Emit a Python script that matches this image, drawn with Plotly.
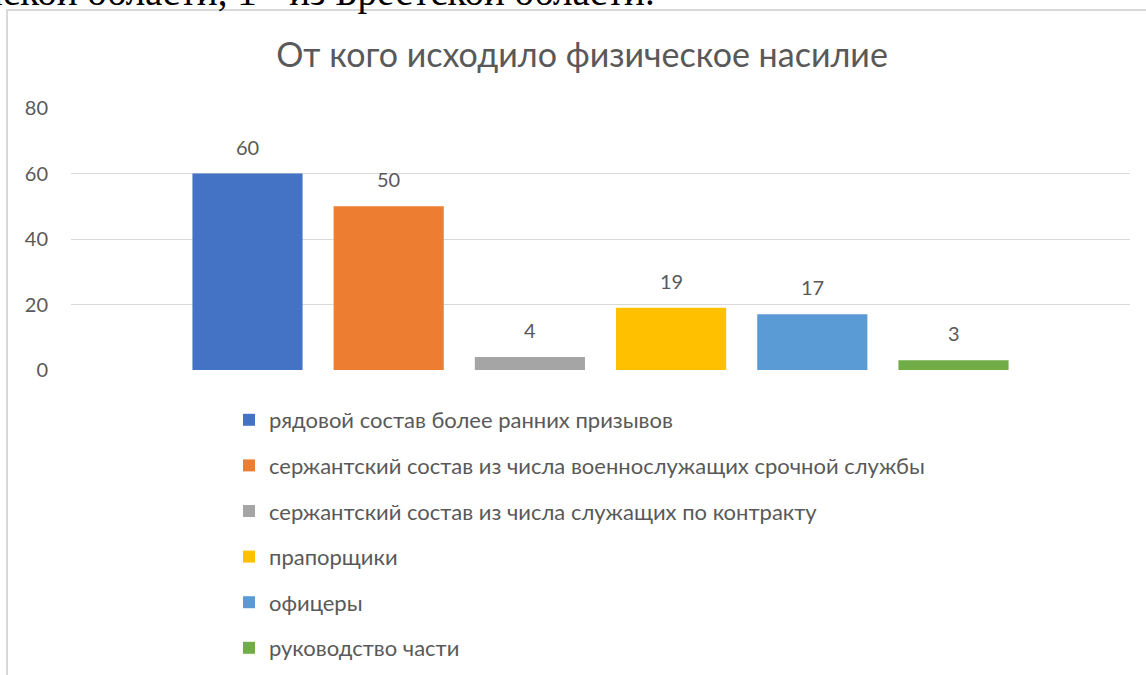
import plotly.graph_objects as go

categories = [""]
series_names = [
    "рядовой состав более ранних призывов",
    "сержантский состав из числа военнослужащих срочной службы",
    "сержантский состав из числа служащих по контракту",
    "прапорщики",
    "офицеры",
    "руководство части",
]
series_values = [60, 50, 4, 19, 17, 3]
series_colors = ["#4472C4", "#ED7D31", "#A5A5A5", "#FFC000", "#5B9BD5", "#70AD47"]
y_ticks = [0, 20, 40, 60, 80]

FONT = "Lato"
GRAY = "#595959"

W, H = 1146, 675
L, R = 71, 1130
T, B = 108, 370
pw, ph = R - L, B - T

def py(pix):
    return (B - pix) / ph

def px(pix):
    return (pix - L) / pw

fig = go.Figure()
for i, (name, val, col) in enumerate(zip(series_names, series_values, series_colors)):
    fig.add_trace(go.Bar(
        x=categories, y=[val], name=name, marker_color=col,
        marker_line_width=0, legendgroup=f"g{i}",
    ))

n = len(series_names)
slot = pw * (1 - 0.2) / n
annotations = []
for i, val in enumerate(series_values):
    annotations.append(dict(
        x=categories[0], y=val, xref="x", yref="y", text=str(val), showarrow=False,
        xshift=(i - (n - 1) / 2) * slot, yshift=27, yanchor="middle",
        font=dict(family=FONT, size=20, color=GRAY),
    ))

annotations.append(dict(
    x=px(657), y=py(16), xref="paper", yref="paper", xanchor="right", yanchor="bottom",
    text="нской области, 1 - из Брестской области.", showarrow=False,
    font=dict(family="Liberation Serif", size=39, color="#000000"),
))

fig.update_layout(
    width=W, height=H,
    margin=dict(l=L, r=W - R, t=T, b=H - B, pad=0, autoexpand=False),
    paper_bgcolor="white", plot_bgcolor="white",
    barmode="group", bargap=0.2, bargroupgap=0.22,
    title=dict(text="От кого исходило физическое насилие", x=582 / W, xanchor="center",
               y=1 - 55 / H, yanchor="middle",
               font=dict(family=FONT, size=34, color=GRAY)),
    xaxis=dict(showticklabels=False, showgrid=False, zeroline=False, showline=False,
               range=[-0.5, 0.5]),
    yaxis=dict(range=[0, 80], tickvals=y_ticks, showgrid=True, gridcolor="#D9D9D9",
               gridwidth=1, zeroline=False, showline=False, ticks="",
               tickfont=dict(family=FONT, size=20, color=GRAY), ticklabelstandoff=22),
    legend=dict(x=px(229), y=py(399), xanchor="left", yanchor="top",
                font=dict(family=FONT, size=22, color=GRAY), tracegroupgap=14,
                itemwidth=30, bgcolor="rgba(0,0,0,0)"),
    annotations=annotations,
    shapes=[dict(type="rect", xref="paper", yref="paper",
                 x0=px(7), x1=px(1160), y0=py(700), y1=py(10),
                 line=dict(color="#D9D9D9", width=2), layer="below")],
    showlegend=True,
)

fig.write_html("out.html", config={"displayModeBar": False},
               post_script="document.body.style.margin='0px';")
